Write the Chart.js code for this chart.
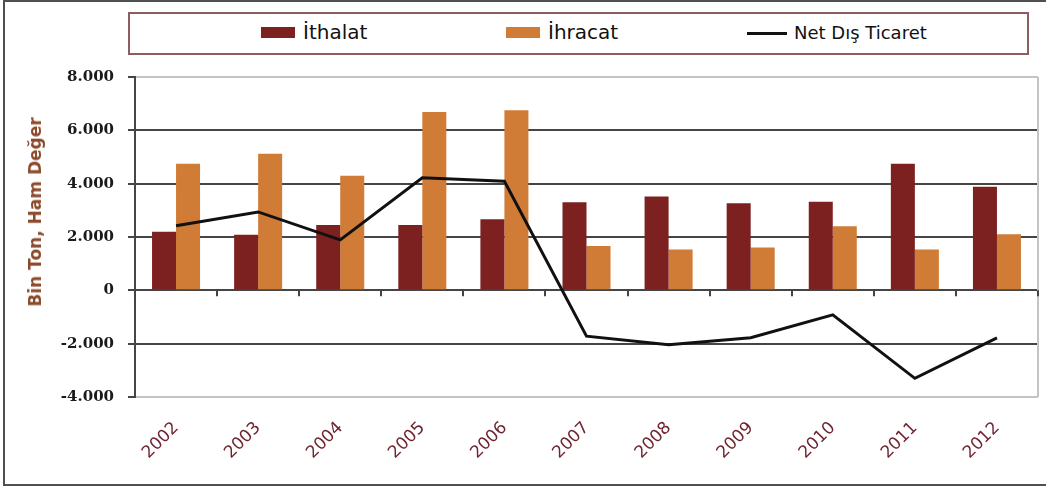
<!DOCTYPE html>
<html>
<head>
<meta charset="utf-8">
<script src="https://cdn.jsdelivr.net/npm/chart.js@4/dist/chart.umd.min.js"></script>
<style>
  html, body { margin: 0; padding: 0; background: #ffffff; }
  #wrap { position: relative; width: 1046px; height: 486px; overflow: hidden; background: #fff; }
  #frame { position: absolute; left: 3px; top: 0; width: 1043px; height: 482px;
           border-left: 2px solid #4f4f4f; border-top: 2px solid #4f4f4f; border-bottom: 2px solid #4f4f4f; box-sizing: content-box; }
  #chart { position: absolute; left: 0; top: 0; }
  #legend { position: absolute; left: 128px; top: 12px; width: 897px; height: 39px;
            border: 2px solid #8d5d60; background: #fff; }
  .sw { position: absolute; }
  .lt { position: absolute; font-family: "DejaVu Sans", sans-serif; color: #111; white-space: nowrap; line-height: 20px; }
  #ytitle { position: absolute; left: 35px; top: 212px; transform: translate(-50%, -50%) rotate(-90deg);
            font-family: "DejaVu Sans", sans-serif; font-weight: bold; font-size: 17px; color: #8b4a2b; white-space: nowrap; }
</style>
</head>
<body>
<div id="wrap">
  <div id="frame"></div>
  <canvas id="chart" width="1046" height="486"></canvas>
  <div id="legend"></div>
  <div id="ytitle">Bin Ton, Ham Değer</div>
</div>
<script>
const categories = ["2002","2003","2004","2005","2006","2007","2008","2009","2010","2011","2012"];
const ithalat = [2200, 2080, 2450, 2450, 2670, 3300, 3520, 3270, 3320, 4750, 3880];
const ihracat = [4750, 5120, 4300, 6690, 6750, 1660, 1530, 1610, 2400, 1530, 2100];
const netDisTicaret = [2420, 2940, 1890, 4220, 4090, -1720, -2040, -1780, -920, -3300, -1780];
const yTickValues = [-4000, -2000, 0, 2000, 4000, 6000, 8000];
const yTickLabels = ["-4.000", "-2.000", "0", "2.000", "4.000", "6.000", "8.000"];
const seriesNames = ["İthalat", "İhracat", "Net Dış Ticaret"];

const COL_ITH = "#7d2020";
const COL_IHR = "#d07b36";
const COL_NET = "#111111";

// HTML legend
(function(){
  const lg = document.getElementById('legend');
  const items = [
    {type:'box', color: COL_ITH, sx: 131, tx: 173, size: 20, text: seriesNames[0]},
    {type:'box', color: COL_IHR, sx: 376, tx: 418, size: 20, text: seriesNames[1]},
    {type:'line', color: COL_NET, sx: 617, tx: 664, size: 18, text: seriesNames[2]}
  ];
  items.forEach(it => {
    const s = document.createElement('div');
    s.className = 'sw';
    if (it.type === 'box') {
      s.style.cssText = `left:${it.sx}px;top:13px;width:34px;height:11px;background:${it.color};`;
    } else {
      s.style.cssText = `left:${it.sx}px;top:18px;width:40px;height:3px;background:${it.color};`;
    }
    lg.appendChild(s);
    const t = document.createElement('div');
    t.className = 'lt';
    t.style.cssText = `left:${it.tx}px;top:${it.type==='box'?8:9}px;font-size:${it.size}px;`;
    t.textContent = it.text;
    lg.appendChild(t);
  });
})();

const frameLines = {
  id: 'frameLines',
  beforeDatasetsDraw(chart) {
    const {ctx, chartArea, scales} = chart;
    const x = scales.x, y = scales.y;
    ctx.save();
    ctx.strokeStyle = '#c4c4c4';
    ctx.lineWidth = 2;
    ctx.beginPath();
    ctx.moveTo(chartArea.right, chartArea.top);
    ctx.lineTo(chartArea.right, chartArea.bottom);
    ctx.stroke();
    const y0 = y.getPixelForValue(0);
    ctx.strokeStyle = '#444444';
    ctx.lineWidth = 2;
    for (let i = 0; i <= categories.length; i++) {
      const px = Math.round(x.getPixelForValue(i - 0.5));
      ctx.beginPath();
      ctx.moveTo(px, y0);
      ctx.lineTo(px, y0 + 6);
      ctx.stroke();
    }
    ctx.restore();
  }
};

new Chart(document.getElementById('chart'), {
  data: {
    labels: categories,
    datasets: [
      { type: 'line', label: seriesNames[2], data: netDisTicaret, borderColor: COL_NET, borderWidth: 3,
        pointRadius: 0, tension: 0, fill: false, order: 0 },
      { type: 'bar', label: seriesNames[0], data: ithalat, backgroundColor: COL_ITH, borderWidth: 0,
        categoryPercentage: 0.585, barPercentage: 1.0, order: 1 },
      { type: 'bar', label: seriesNames[1], data: ihracat, backgroundColor: COL_IHR, borderWidth: 0,
        categoryPercentage: 0.585, barPercentage: 1.0, order: 1 }
    ]
  },
  options: {
    responsive: false,
    animation: false,
    layout: { padding: { top: 77, right: 8, left: 0, bottom: 0 } },
    plugins: { legend: { display: false }, tooltip: { enabled: false }, title: { display: false } },
    scales: {
      x: {
        type: 'category',
        position: 'bottom',
        offset: true,
        grid: { display: false, drawOnChartArea: false, drawTicks: false },
        border: { display: false },
        ticks: {
          color: '#6e2530',
          font: { family: 'DejaVu Sans', size: 17 },
          minRotation: 45, maxRotation: 45,
          padding: 21,
          autoSkip: false
        },
        afterFit(scale) { scale.height = 89; }
      },
      y: {
        min: -4000, max: 8000,
        afterBuildTicks(scale) { scale.ticks = yTickValues.map(v => ({ value: v })); },
        grid: {
          color: (c) => (c.tick && (c.tick.value === 8000 || c.tick.value === -4000)) ? '#c4c4c4' : '#454545',
          lineWidth: 2,
          drawTicks: true,
          tickLength: 7,
          tickColor: '#454545'
        },
        border: { display: true, color: '#454545', width: 2 },
        ticks: {
          color: '#1a1a1a',
          font: { family: 'DejaVu Serif', size: 15, weight: 'bold' },
          padding: 14,
          callback: (v) => { const i = yTickValues.indexOf(v); return i >= 0 ? yTickLabels[i] : ''; }
        },
        afterFit(scale) { scale.width = 135; }
      }
    }
  },
  plugins: [frameLines]
});
</script>
</body>
</html>
